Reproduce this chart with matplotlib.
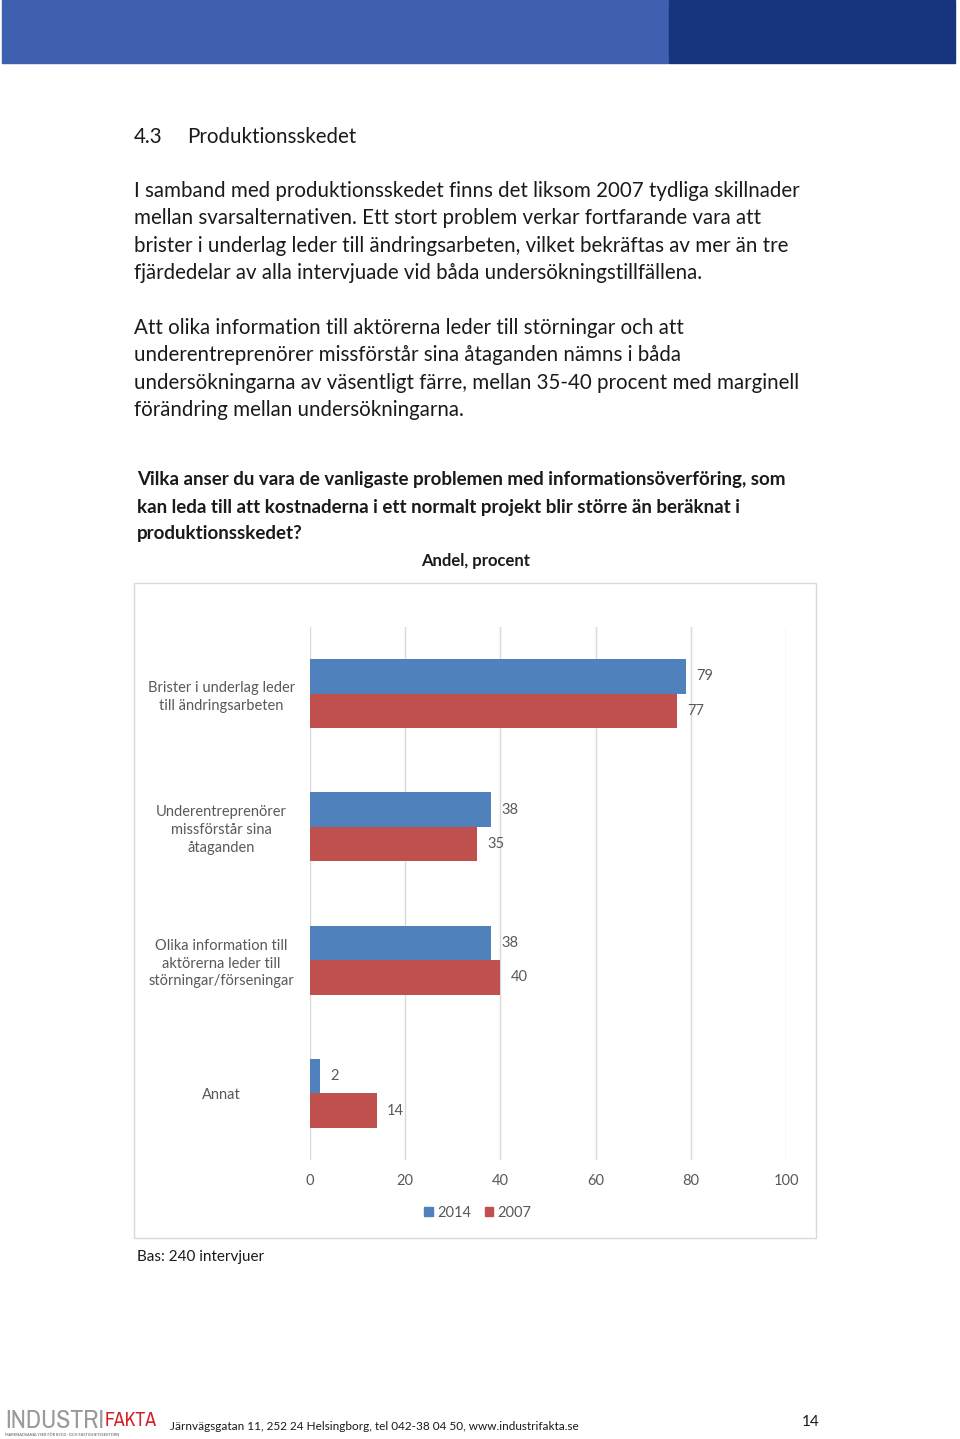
import matplotlib.pyplot as plt
from matplotlib.patches import Rectangle, Patch
from matplotlib import font_manager

# data
categories = ['Brister i underlag leder\ntill ändringsarbeten',
              'Underentreprenörer\nmissförstår sina\nåtaganden',
              'Olika information till\naktörerna leder till\nstörningar/förseningar',
              'Annat']
v2014 = [79, 38, 38, 2]
v2007 = [77, 35, 40, 14]
series_names = ['2014', '2007']
xticks = [0, 20, 40, 60, 80, 100]

body1 = ['I samband med produktionsskedet finns det liksom 2007 tydliga skillnader',
         'mellan svarsalternativen. Ett stort problem verkar fortfarande vara att',
         'brister i underlag leder till ändringsarbeten, vilket bekräftas av mer än tre',
         'fjärdedelar av alla intervjuade vid båda undersökningstillfällena.']
body2 = ['Att olika information till aktörerna leder till störningar och att',
         'underentreprenörer missförstår sina åtaganden nämns i båda',
         'undersökningarna av väsentligt färre, mellan 35-40 procent med marginell',
         'förändring mellan undersökningarna.']
chart_title = ['Vilka anser du vara de vanligaste problemen med informationsöverföring, som',
               'kan leda till att kostnaderna i ett normalt projekt blir större än beräknat i',
               'produktionsskedet?']

W, H = 960, 1439
BLUE = '#4F81BD'
RED = '#C0504D'
GRAY = '#595959'
FONT = 'Lato'

fig = plt.figure(figsize=(W / 100, H / 100), dpi=100)


def px(x, y):
    return x / W, 1 - y / H


def ftext(x, y, s, **kw):
    kw.setdefault('family', FONT)
    kw.setdefault('va', 'center')
    fx, fy = px(x, y)
    return fig.text(fx, fy, s, **kw)


# header bars
fig.patches.append(Rectangle(px(2, 63), 666 / W, 63 / H, transform=fig.transFigure,
                             color='#3F5FAF', zorder=0))
fig.patches.append(Rectangle(px(669, 63), 286 / W, 63 / H, transform=fig.transFigure,
                             color='#17357F', zorder=0))

# section heading and body text
ftext(134, 137, '4.3', fontsize=14.8, color='#1a1a1a')
ftext(187, 137, 'Produktionsskedet', fontsize=14.8, color='#1a1a1a')
for i, line in enumerate(body1):
    ftext(134, 191 + i * 27.4, line, fontsize=14.8, color='#1a1a1a')
for i, line in enumerate(body2):
    ftext(134, 328 + i * 27.4, line, fontsize=14.8, color='#1a1a1a')

# chart title
for i, line in enumerate(chart_title):
    ftext(137, 480 + i * 27, line, fontsize=13.5, fontweight='bold', color='#1a1a1a')
ftext(476, 561, 'Andel, procent', fontsize=12, fontweight='bold', color='#1a1a1a', ha='center')

# chart border
fig.patches.append(Rectangle(px(134, 1238), 682 / W, 655 / H, transform=fig.transFigure,
                             fill=False, edgecolor='#D9D9D9', linewidth=1))

# bar chart
ax = fig.add_axes([310 / W, 1 - 1160 / H, 476 / W, 533 / H])
y = list(range(len(categories)))
h = 0.259
ax.barh([i - h / 2 for i in y], v2014, height=h, color=BLUE)
ax.barh([i + h / 2 for i in y], v2007, height=h, color=RED)
for i in y:
    ax.text(v2014[i] + 2.2, i - h / 2, str(v2014[i]), va='center', ha='left',
            fontsize=10.5, color=GRAY, family=FONT)
    ax.text(v2007[i] + 2.2, i + h / 2, str(v2007[i]), va='center', ha='left',
            fontsize=10.5, color=GRAY, family=FONT)

ax.set_xlim(0, 100)
ax.set_ylim(3.5, -0.5)
ax.set_xticks(xticks)
ax.set_xticklabels([str(t) for t in xticks], family=FONT, fontsize=10.5, color=GRAY)
ax.set_yticks(y)
ax.set_yticklabels(categories, family=FONT, fontsize=10.5, color=GRAY,
                   ha='center', linespacing=1.35)
ax.tick_params(axis='y', length=0, pad=64)
ax.tick_params(axis='x', length=0, pad=10)
ax.grid(axis='x', color='#D9D9D9', linewidth=1)
ax.set_axisbelow(True)
for s in ax.spines.values():
    s.set_visible(False)

handles = [Patch(color=BLUE), Patch(color=RED)]
leg = fig.legend(handles, series_names, loc='center', bbox_to_anchor=px(478, 1213),
                 ncol=2, frameon=False, handlelength=0.6, handleheight=0.6,
                 handletextpad=0.3, columnspacing=0.9,
                 prop={'family': FONT, 'size': 10.5})
for t in leg.get_texts():
    t.set_color(GRAY)

ftext(137, 1257, 'Bas: 240 intervjuer', fontsize=11, color='#1a1a1a')

# footer logo - look for a narrow font, otherwise shrink to fit
narrow = [f.name for f in font_manager.fontManager.ttflist
          if 'Narrow' in f.name or 'Condensed' in f.name]
logo_fam = narrow[0] if narrow else 'DejaVu Sans'
renderer = fig.canvas.get_renderer()
t1 = ftext(5, 1421, 'INDUSTRI', family=logo_fam, fontsize=19, color='#9A9A9A')
t2 = ftext(105, 1421, 'FAKTA', family=logo_fam, fontsize=19, fontweight='bold',
           color='#D3222A')
for t, wtarget in ((t1, 100), (t2, 52)):
    wnow = t.get_window_extent(renderer).width
    if wnow > wtarget:
        t.set_fontsize(19 * wtarget / wnow)
ftext(5, 1435, 'MARKNADSANALYSER FÖR BYGG- OCH FASTIGHETSSEKTORN', family=FONT,
      fontsize=2.8, color='#555555')
ftext(170, 1426, 'Järnvägsgatan 11, 252 24 Helsingborg, tel 042-38 04 50, www.industrifakta.se',
      fontsize=8.5, color='#1a1a1a')
ftext(802, 1422, '14', fontsize=11, color='#1a1a1a')

fig.savefig('out.png', dpi=100)
